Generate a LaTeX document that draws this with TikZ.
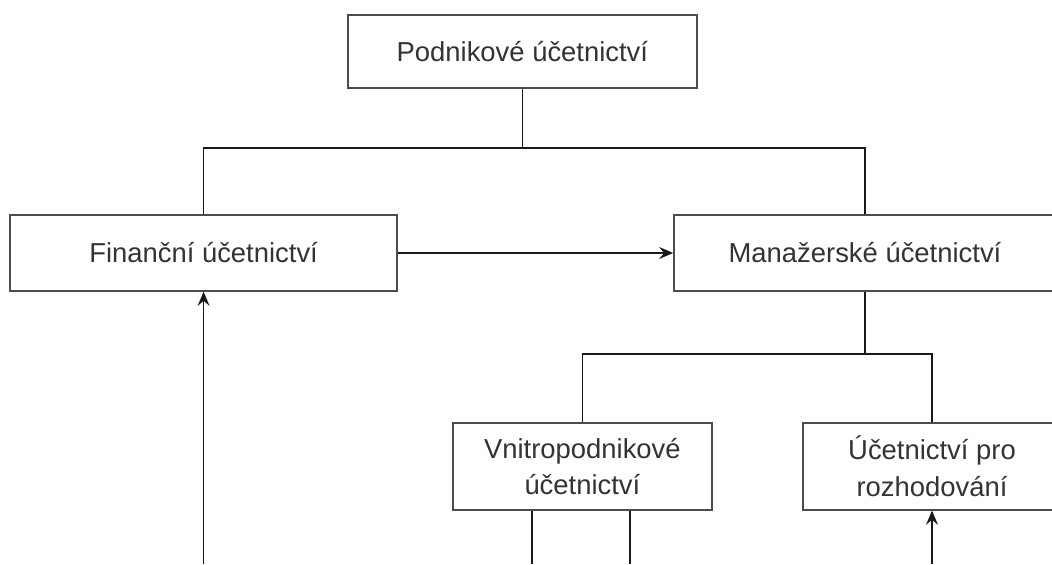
\documentclass[tikz,border=0pt]{standalone}
\usepackage{fontspec}
\setmainfont{Liberation Sans}
\usetikzlibrary{arrows.meta}

\begin{document}
\begin{tikzpicture}[
  box/.style={draw=black!70, line width=1.1pt, fill=white, text=black!80, align=center,
    inner sep=0pt, font=\fontsize{19.5}{26}\selectfont},
  link/.style={draw=black!90, line width=1pt},
  arr/.style={link, -{Stealth[length=10pt,width=8.5pt,inset=3.5pt]}}
]
\useasboundingbox (0,0) rectangle (26.3,-14.1);

% boxes (1cm = 40px)
\node[box, minimum width=8.725cm, minimum height=1.825cm] (pod) at (13.06,-1.29) {Podnikové účetnictví};
\node[box, minimum width=9.675cm, minimum height=1.9cm] (fin) at (5.09,-6.325) {Finanční účetnictví};
\node[box, minimum width=9.55cm, minimum height=1.9cm] (man) at (21.625,-6.325) {Manažerské účetnictví};
\node[box, minimum width=6.475cm, minimum height=2.175cm] (vni) at (14.56,-11.66) {Vnitropodnikové\\účetnictví};
\node[box, minimum width=6.45cm, minimum height=2.175cm] (roz) at (23.3,-11.66) {Účetnictví pro\\rozhodování};

% branching points and free ends
\coordinate (split1) at (13.06,-3.7);
\coordinate (split2) at (21.625,-8.85);
\coordinate (finin) at (5.09,-14.1);
\coordinate (rozin) at (23.3,-14.1);
\coordinate (vniout1) at (13.3,-14.1);
\coordinate (vniout2) at (15.75,-14.1);

\draw[link] (pod.south) -- (split1) -| (fin.north);
\draw[link] (split1) -| (man.north);
\draw[arr] (fin.east) -- (man.west);
\draw[link] (man.south) -- (split2) -| (vni.north);
\draw[link] (split2) -| (roz.north);

% lines leaving the bottom edge
\draw[arr] (finin) -- (fin.south);
\draw[arr] (rozin) -- (roz.south);
\draw[link] (vni.south -| vniout1) -- (vniout1);
\draw[link] (vni.south -| vniout2) -- (vniout2);
\end{tikzpicture}
\end{document}
